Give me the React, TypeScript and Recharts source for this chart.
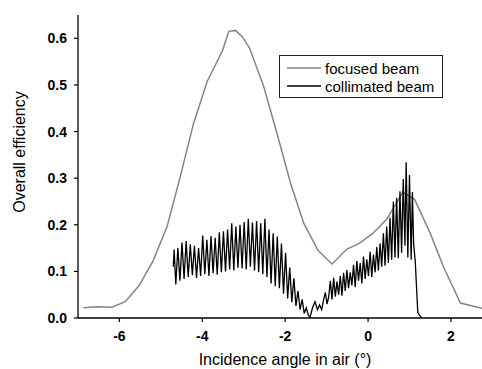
import { ComposedChart, Line, XAxis, YAxis, Legend, Label } from 'recharts';

// axis ticks
const xTicks = [-6, -4, -2, 0, 2];
const xMinorTicks = [-5, -3, -1, 1];
const xTopTicks = [-6, -5, -4, -3, -2, -1, 0, 1, 2];
const yTicks = [0, 0.1, 0.2, 0.3, 0.4, 0.5, 0.6];
const yMinorTicks = [0.05, 0.15, 0.25, 0.35, 0.45, 0.55];

// legend order
const seriesNames = ['focused beam', 'collimated beam'];

// focused beam (grey)
const focusedX = [
  -6.87, -6.54, -6.18, -5.86, -5.53, -5.19, -4.85, -4.53, -4.21, -3.88, -3.52, -3.36, -3.2, -3.04,
  -2.86, -2.52, -2.2, -1.87, -1.55, -1.21, -0.87, -0.51, -0.21, 0.12, 0.46, 0.84, 1.05, 1.12, 1.5,
  1.82, 2.23, 2.75,
];
const focusedY = [
  0.022, 0.024, 0.023, 0.035, 0.069, 0.122, 0.196, 0.304, 0.418, 0.508, 0.572, 0.615, 0.617, 0.604,
  0.579, 0.497, 0.397, 0.289, 0.203, 0.145, 0.116, 0.148, 0.16, 0.182, 0.213, 0.27, 0.258, 0.255, 0.182,
  0.11, 0.032, 0.021,
];

// collimated beam (black)
const collimatedX = [
  -4.7, -4.68, -4.64, -4.59, -4.54, -4.49, -4.44, -4.39, -4.34, -4.29, -4.24, -4.19, -4.14, -4.09,
  -4.04, -3.99, -3.94, -3.89, -3.84, -3.79, -3.74, -3.69, -3.64, -3.59, -3.54, -3.49, -3.44, -3.39,
  -3.34, -3.29, -3.24, -3.19, -3.14, -3.09, -3.04, -2.99, -2.94, -2.89, -2.84, -2.79, -2.74, -2.69,
  -2.64, -2.59, -2.54, -2.49, -2.44, -2.39, -2.34, -2.29, -2.24, -2.19, -2.14, -2.09, -2.04, -1.99,
  -1.94, -1.89, -1.84, -1.79, -1.74, -1.69, -1.64, -1.59, -1.54, -1.49, -1.44, -1.4, -1.34, -1.28,
  -1.22, -1.17, -1.12, -1.07, -1.03, -0.99, -0.95, -0.91, -0.87, -0.83, -0.79, -0.75, -0.71, -0.67,
  -0.63, -0.59, -0.55, -0.51, -0.47, -0.43, -0.39, -0.35, -0.31, -0.27, -0.23, -0.19, -0.15, -0.11,
  -0.07, -0.03, 0.01, 0.05, 0.09, 0.13, 0.17, 0.21, 0.25, 0.29, 0.33, 0.37, 0.41, 0.45, 0.49, 0.53,
  0.57, 0.61, 0.65, 0.69, 0.73, 0.77, 0.81, 0.85, 0.89, 0.92, 0.96, 1.0, 1.04, 1.07, 1.1, 1.14, 1.2,
  1.24, 1.3,
];
const collimatedY = [
  0.11, 0.147, 0.072, 0.15, 0.08, 0.162, 0.084, 0.165, 0.088, 0.158, 0.092, 0.155, 0.086, 0.15,
  0.09, 0.177, 0.094, 0.168, 0.09, 0.176, 0.096, 0.172, 0.093, 0.184, 0.098, 0.186, 0.1, 0.19,
  0.104, 0.203, 0.102, 0.196, 0.108, 0.2, 0.106, 0.206, 0.104, 0.213, 0.11, 0.205, 0.102, 0.208,
  0.098, 0.203, 0.094, 0.213, 0.088, 0.19, 0.074, 0.182, 0.068, 0.175, 0.064, 0.16, 0.052, 0.14,
  0.042, 0.108, 0.034, 0.085, 0.026, 0.058, 0.018, 0.04, 0.01, 0.022, 0.006, 0.002, 0.022, 0.035,
  0.018, 0.028, 0.018, 0.04, 0.055, 0.03, 0.045, 0.08, 0.04, 0.086, 0.046, 0.078, 0.05, 0.09,
  0.048, 0.097, 0.058, 0.103, 0.064, 0.098, 0.07, 0.114, 0.066, 0.122, 0.08, 0.118, 0.074, 0.132,
  0.084, 0.126, 0.09, 0.142, 0.088, 0.136, 0.098, 0.152, 0.102, 0.16, 0.11, 0.182, 0.112, 0.196, 0.118, 0.215,
  0.125, 0.25, 0.13, 0.258, 0.128, 0.272, 0.14, 0.298, 0.155, 0.334, 0.13, 0.307, 0.125, 0.27, 0.16, 0.12, 0.012,
  0.006, 0.0,
];

const focused = focusedX.map((x, i) => ({ x, y: focusedY[i] }));
const collimated = collimatedX.map((x, i) => ({ x, y: collimatedY[i] }));

const FONT = '"Liberation Sans", Arial, sans-serif';
const tickStyle = { fill: '#000', fontSize: 14, fontWeight: 'bold' as const, fontFamily: FONT };
const noLabel = () => '';

const renderLegend = (props: any) => {
  const items = [...(props.payload || [])].sort(
    (a: any, b: any) => seriesNames.indexOf(a.value) - seriesNames.indexOf(b.value)
  );
  return (
    <div
      style={{
        width: 162,
        height: 41,
        border: '1px solid #222',
        background: '#fff',
        fontFamily: FONT,
        fontSize: 15,
        position: 'relative',
      }}
    >
      {items.map((entry: any, i: number) => (
        <div
          key={entry.value}
          style={{ position: 'absolute', left: 7, top: 3 + i * 18, height: 18, display: 'flex', alignItems: 'center' }}
        >
          <svg width={34} height={4} style={{ marginRight: 4 }}>
            <line x1={0} y1={2} x2={34} y2={2} stroke={entry.color} strokeWidth={1.4} />
          </svg>
          <span style={{ color: '#000', whiteSpace: 'nowrap' }}>{entry.value}</span>
        </div>
      ))}
    </div>
  );
};

export default function App() {
  return (
    <div style={{ position: 'absolute', left: 0, top: 0, width: 482, height: 369, background: '#fff' }}>
      <ComposedChart width={482} height={369} margin={{ top: 15, right: 0, bottom: 0, left: 0 }}>
        <XAxis
          xAxisId="x"
          type="number"
          dataKey="x"
          domain={[-7, 2.75]}
          ticks={xTicks}
          allowDataOverflow
          height={51}
          tickSize={4}
          tickMargin={9}
          tick={tickStyle}
          axisLine={{ stroke: '#000', strokeWidth: 1.3 }}
          tickLine={{ stroke: '#000', strokeWidth: 1.2 }}
        >
          <Label
            content={(p: any) => {
              const vb = p.viewBox || { x: 78, y: 318, width: 404 };
              return (
                <text x={vb.x + vb.width / 2 + 5} y={vb.y + 47} textAnchor="middle" fontSize={16} fontFamily={FONT} fill="#000">
                  Incidence angle in air (°)
                </text>
              );
            }}
          />
        </XAxis>
        <XAxis
          xAxisId="xm"
          type="number"
          dataKey="x"
          domain={[-7, 2.75]}
          ticks={xMinorTicks}
          allowDataOverflow
          mirror
          height={0}
          tickSize={3}
          tickFormatter={noLabel}
          axisLine={false}
          tickLine={{ stroke: '#000', strokeWidth: 1.2 }}
        />
        <XAxis
          xAxisId="xt"
          orientation="top"
          type="number"
          dataKey="x"
          domain={[-7, 2.75]}
          ticks={xTopTicks}
          allowDataOverflow
          mirror
          height={0}
          tickSize={4}
          tickFormatter={noLabel}
          axisLine={{ stroke: '#000', strokeWidth: 1.3 }}
          tickLine={{ stroke: '#000', strokeWidth: 1.2 }}
        />
        <YAxis
          yAxisId="y"
          type="number"
          domain={[0, 0.65]}
          ticks={yTicks}
          allowDataOverflow
          width={78}
          tickSize={4}
          tickMargin={7}
          tick={tickStyle}
          tickFormatter={(v: number) => v.toFixed(1)}
          axisLine={{ stroke: '#000', strokeWidth: 1.3 }}
          tickLine={{ stroke: '#000', strokeWidth: 1.2 }}
        >
          <Label
            content={(p: any) => {
              const vb = p.viewBox || { x: 0, y: 15, height: 303 };
              const cx = vb.x + 25;
              const cy = vb.y + 137;
              return (
                <text x={cx} y={cy} transform={`rotate(-90 ${cx} ${cy})`} textAnchor="middle" fontSize={16} fontFamily={FONT} fill="#000">
                  Overall efficiency
                </text>
              );
            }}
          />
        </YAxis>
        <YAxis
          yAxisId="ym"
          type="number"
          domain={[0, 0.65]}
          ticks={yMinorTicks}
          allowDataOverflow
          mirror
          width={0}
          tickSize={3}
          tickFormatter={noLabel}
          axisLine={false}
          tickLine={{ stroke: '#000', strokeWidth: 1.2 }}
        />
        <Legend
          layout="vertical"
          align="center"
          verticalAlign="middle"
          content={renderLegend}
          wrapperStyle={{ left: 279, top: 55, width: 164, height: 43 }}
        />
        <Line
          xAxisId="x"
          yAxisId="y"
          data={focused}
          dataKey="y"
          name="focused beam"
          type="linear"
          stroke="#858585"
          strokeWidth={1.5}
          dot={false}
          activeDot={false}
          isAnimationActive={false}
        />
        <Line
          xAxisId="x"
          yAxisId="y"
          data={collimated}
          dataKey="y"
          name="collimated beam"
          type="linear"
          stroke="#000"
          strokeWidth={1.3}
          dot={false}
          activeDot={false}
          isAnimationActive={false}
        />
      </ComposedChart>
    </div>
  );
}
